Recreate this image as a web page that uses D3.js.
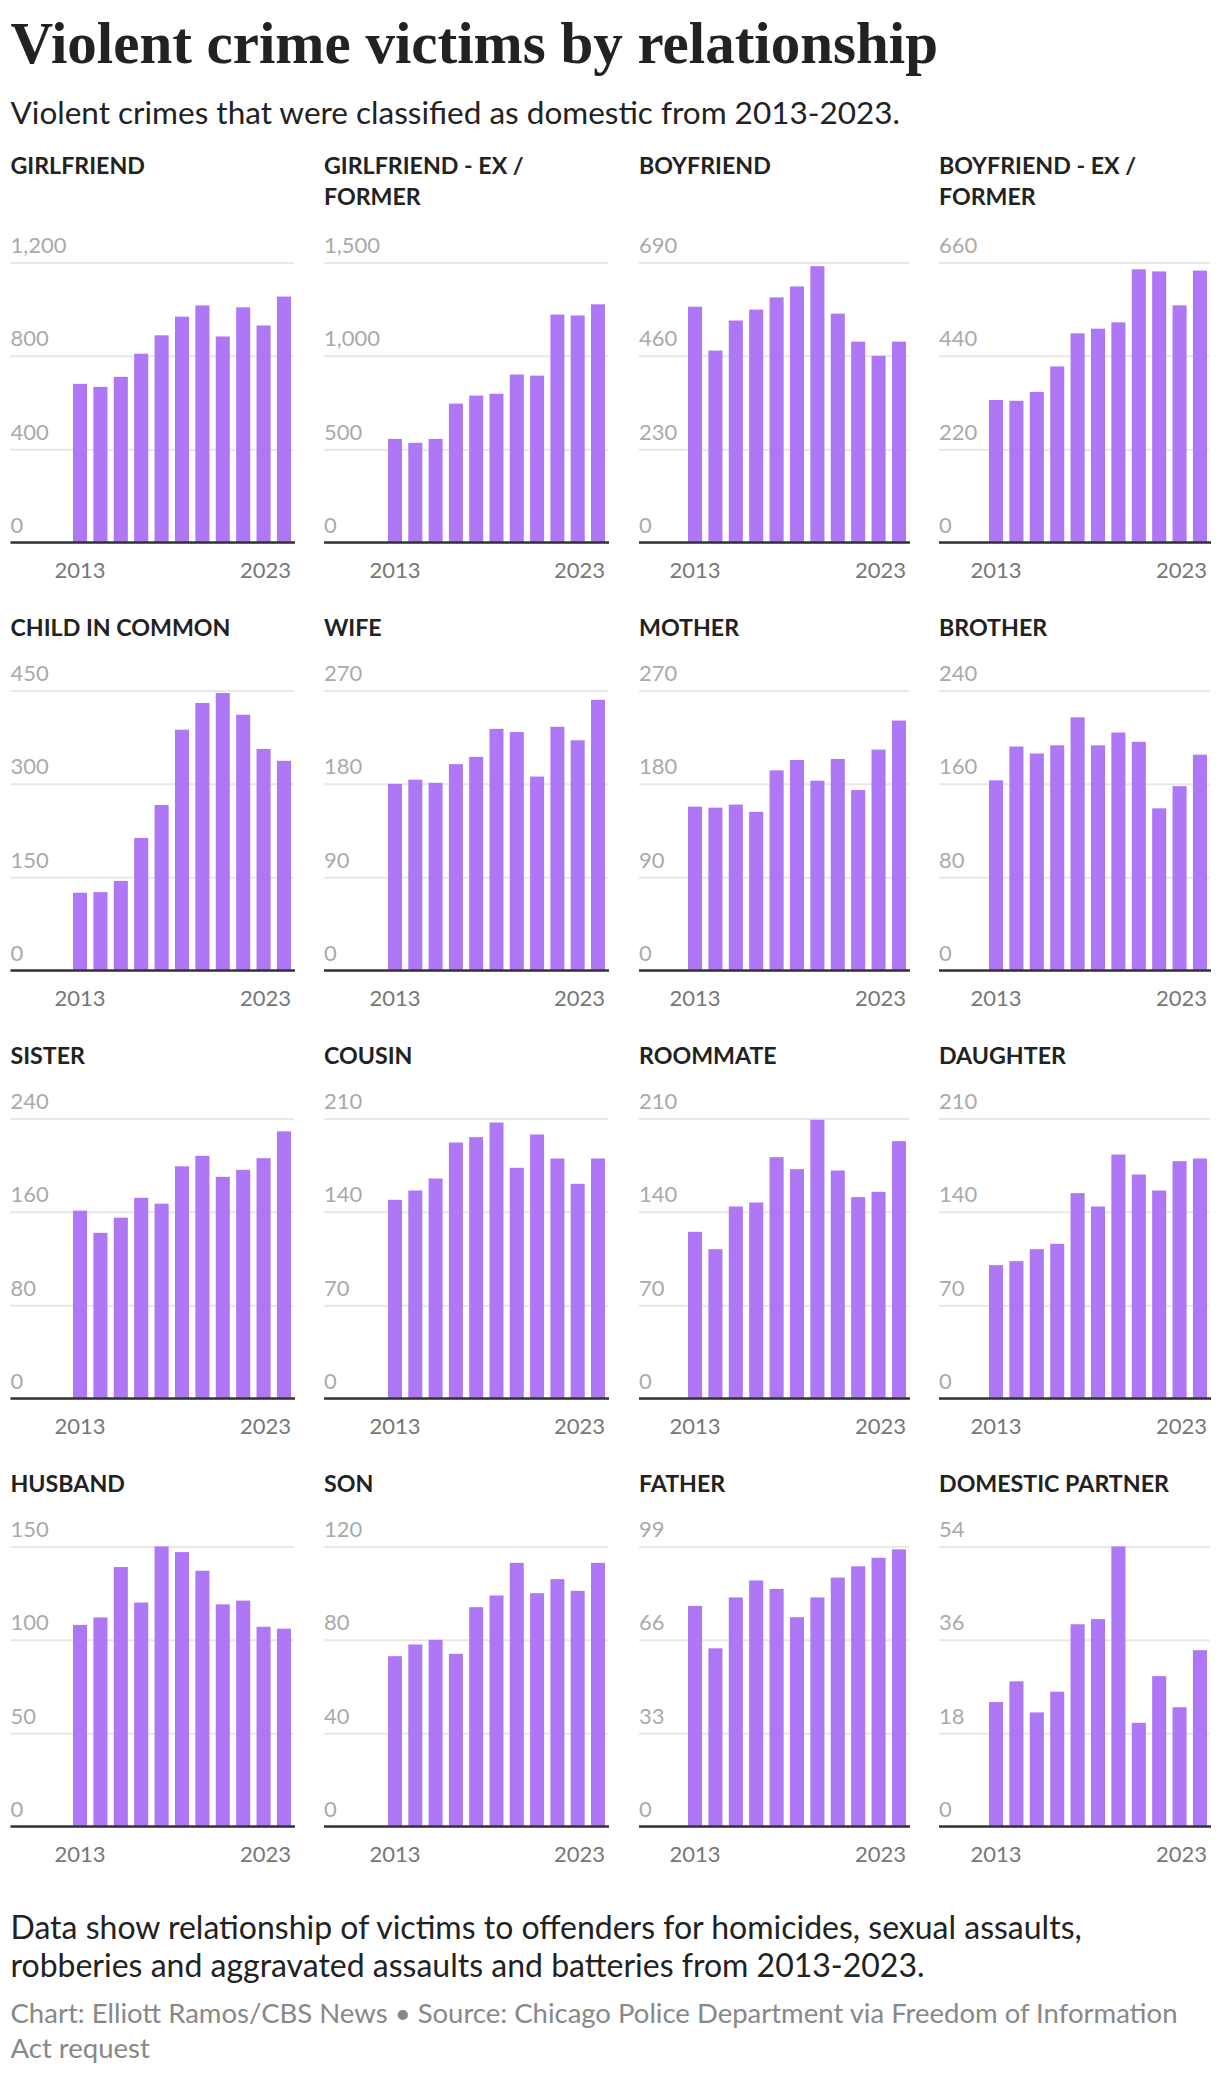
<!DOCTYPE html>
<html>
<head>
<meta charset="utf-8">
<script src="https://cdn.jsdelivr.net/npm/d3@7/dist/d3.min.js"></script>
<style>
  body { margin: 0; background: #fff; }
  svg { display: block; font-family: Lato, "Open Sans", sans-serif; }
</style>
</head>
<body>
<svg id="chart" width="1220" height="2076"></svg>
<script>
// years on the x axis
var years = [2013, 2014, 2015, 2016, 2017, 2018, 2019, 2020, 2021, 2022, 2023];

// panel titles, in reading order
var relationships = ["GIRLFRIEND", "GIRLFRIEND - EX / FORMER", "BOYFRIEND", "BOYFRIEND - EX / FORMER",
  "CHILD IN COMMON", "WIFE", "MOTHER", "BROTHER",
  "SISTER", "COUSIN", "ROOMMATE", "DAUGHTER",
  "HUSBAND", "SON", "FATHER", "DOMESTIC PARTNER"];

// victims per year, 2013-2023
var girlfriend      = [680, 667, 710, 809, 888, 968, 1016, 883, 1008, 930, 1054];
var girlfriendEx    = [555, 534, 555, 744, 787, 797, 900, 894, 1221, 1216, 1276];
var boyfriend       = [581, 473, 547, 574, 604, 631, 681, 564, 495, 460, 495];
var boyfriendEx     = [336, 334, 355, 415, 493, 504, 519, 644, 639, 559, 641];
var childInCommon   = [125, 126, 144, 213, 266, 387, 430, 446, 411, 356, 337];
var wife            = [180, 184, 181, 199, 206, 233, 230, 187, 235, 222, 261];
var mother          = [158, 157, 160, 153, 193, 203, 183, 204, 174, 213, 241];
var brother         = [163, 192, 186, 193, 217, 193, 204, 196, 139, 158, 185];
var sister          = [161, 142, 155, 172, 167, 199, 208, 190, 196, 206, 229];
var cousin          = [149, 156, 165, 192, 196, 207, 173, 198, 180, 161, 180];
var roommate        = [125, 112, 144, 147, 181, 172, 209, 171, 151, 155, 193];
var daughter        = [100, 103, 112, 116, 154, 144, 183, 168, 156, 178, 180];
var husband         = [108, 112, 139, 120, 150, 147, 137, 119, 121, 107, 106];
var son             = [73, 78, 80, 74, 94, 99, 113, 100, 106, 101, 113];
var father          = [78, 63, 81, 87, 84, 74, 81, 88, 92, 95, 98];
var domesticPartner = [24, 28, 22, 26, 39, 40, 54, 20, 29, 23, 34];

// top tick of each panel's y axis (ticks are thirds of it)
var axisMax = [1200, 1500, 690, 660, 450, 270, 270, 240, 240, 210, 210, 210, 150, 120, 99, 54];

var series = [girlfriend, girlfriendEx, boyfriend, boyfriendEx, childInCommon, wife, mother, brother,
  sister, cousin, roommate, daughter, husband, son, father, domesticPartner];

var noteLines = ["Data show relationship of victims to offenders for homicides, sexual assaults,",
  "robberies and aggravated assaults and batteries from 2013-2023."];
var sourceLines = ["Chart: Elliott Ramos/CBS News \u2022 Source: Chicago Police Department via Freedom of Information",
  "Act request"];

// layout
var colLeft  = [10.5, 324, 639, 939];
var colBars  = [73, 388, 688, 989];
var colRight = [294, 608, 909, 1210];
var rowTitle = [174, 636, 1064, 1492];
var rowTop   = [262.5, 690.5, 1118.5, 1546.5];
var plotH = 280;
var barColor = "#ae77f6";

var svg = d3.select("#chart");

svg.append("text")
  .attr("x", 10.5).attr("y", 63)
  .attr("font-family", "'Liberation Serif', serif")
  .attr("font-weight", 700)
  .attr("font-size", 59)
  .attr("fill", "#222")
  .text("Violent crime victims by relationship");

svg.append("text")
  .attr("x", 10.5).attr("y", 124)
  .attr("font-size", 31.5)
  .attr("fill", "#222")
  .text("Violent crimes that were classified as domestic from 2013-2023.");

function wrap(textSel, width, lineH) {
  textSel.each(function() {
    var t = d3.select(this);
    var words = t.text().split(" ");
    var x = t.attr("x");
    t.text(null);
    var line = [];
    var tspan = t.append("tspan").attr("x", x).attr("dy", 0);
    words.forEach(function(w) {
      line.push(w);
      tspan.text(line.join(" "));
      if (tspan.node().getComputedTextLength() > width && line.length > 1) {
        line.pop();
        tspan.text(line.join(" "));
        line = [w];
        tspan = t.append("tspan").attr("x", x).attr("dy", lineH).text(w);
      }
    });
  });
}

series.forEach(function(vals, i) {
  var c = i % 4, r = Math.floor(i / 4);
  var left = colLeft[c], right = colRight[c];

  var title = svg.append("text")
    .attr("x", left).attr("y", rowTitle[r])
    .attr("font-size", 23.2)
    .attr("font-weight", 700)
    .attr("fill", "#222")
    .text(relationships[i]);
  wrap(title, right - left, 31);

  var g = svg.append("g").attr("transform", "translate(0," + rowTop[r] + ")");

  var y = d3.scaleLinear().domain([0, axisMax[i]]).range([plotH, 0]);
  var x = d3.scaleBand().domain(years)
    .range([colBars[c], right - 3])
    .paddingInner(0.31).paddingOuter(0);

  var ticks = [0, 1, 2, 3].map(function(k) { return axisMax[i] * k / 3; });

  var ya = g.append("g")
    .attr("transform", "translate(" + left + ",0)")
    .call(d3.axisRight(y).tickValues(ticks).tickSize(right - left).tickFormat(d3.format(",.0f")));
  ya.attr("font-size", 22).attr("font-family", null);
  ya.select(".domain").remove();
  ya.selectAll(".tick line").attr("stroke", "#e8e8e8").attr("stroke-width", 2);
  ya.selectAll(".tick text")
    .attr("x", 0).attr("y", -10).attr("dy", null)
    .attr("text-anchor", "start")
    .attr("fill", "#aaa");

  g.selectAll("rect.bar")
    .data(vals)
    .enter().append("rect")
    .attr("class", "bar")
    .attr("x", function(d, k) { return x(years[k]); })
    .attr("width", x.bandwidth())
    .attr("y", function(d) { return y(d); })
    .attr("height", function(d) { return y(0) - y(d); })
    .attr("fill", barColor);

  g.append("line")
    .attr("x1", left).attr("x2", right + 1)
    .attr("y1", y(0)).attr("y2", y(0))
    .attr("stroke", "#333").attr("stroke-width", 2.5);

  var xa = g.append("g")
    .attr("transform", "translate(0," + plotH + ")")
    .call(d3.axisBottom(x).tickValues([2013, 2023]).tickSize(0));
  xa.attr("font-size", 22).attr("font-family", null);
  xa.select(".domain").remove();
  xa.selectAll(".tick text")
    .attr("y", 35).attr("dy", null)
    .attr("fill", "#777")
    .attr("text-anchor", function(d) { return d === 2023 ? "end" : "middle"; })
    .attr("x", function(d) { return d === 2023 ? x.bandwidth() / 2 : 0; });
});

svg.append("g").selectAll("text")
  .data(noteLines)
  .enter().append("text")
  .attr("x", 10.5)
  .attr("y", function(d, k) { return 1939 + k * 38; })
  .attr("font-size", 32)
  .attr("fill", "#222")
  .text(function(d) { return d; });

svg.append("g").selectAll("text")
  .data(sourceLines)
  .enter().append("text")
  .attr("x", 10.5)
  .attr("y", function(d, k) { return 2023 + k * 35; })
  .attr("font-size", 27.5)
  .attr("fill", "#888")
  .text(function(d) { return d; });
</script>
</body>
</html>
